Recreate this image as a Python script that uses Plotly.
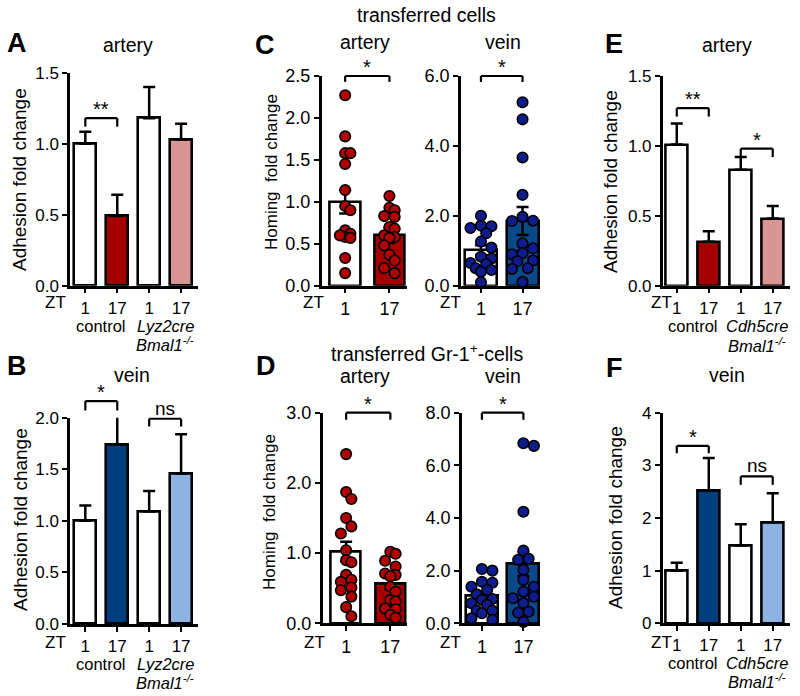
import numpy as np
import plotly.graph_objects as go

W, H = 800, 696
FONT = "Liberation Sans, Arial, Helvetica, sans-serif"

# ---------------- data ----------------
zt4 = ["1", "17", "1", "17"]
zt2 = ["1", "17"]

A_mean = [1.00, 0.49, 1.18, 1.03]
A_sem = [0.085, 0.15, 0.22, 0.11]
B_mean = [1.00, 1.74, 1.09, 1.46]
B_sem = [0.15, 0.29, 0.20, 0.38]
E_mean = [1.01, 0.315, 0.83, 0.48]
E_sem = [0.15, 0.075, 0.09, 0.09]
F_mean = [1.00, 2.52, 1.48, 1.92]
F_sem = [0.15, 0.62, 0.40, 0.55]

C_art_mean = [1.00, 0.60]
C_art_sem = [0.14, 0.09]
C_art_zt1 = [2.27, 1.78, 1.58, 1.58, 1.45, 1.14, 0.95, 0.90, 0.66, 0.62, 0.58, 0.57, 0.60, 0.33, 0.15]
C_art_zt17 = [1.07, 0.93, 0.90, 0.83, 0.82, 0.70, 0.68, 0.60, 0.58, 0.57, 0.48, 0.37, 0.30, 0.21, 0.15]
C_vein_mean = [1.02, 1.85]
C_vein_sem = [0.14, 0.40]
C_vein_zt1 = [2.0, 1.72, 1.70, 1.65, 1.50, 1.26, 1.09, 0.83, 0.78, 0.65, 0.62, 0.50, 0.45, 0.40, 0.10]
C_vein_zt17 = [5.25, 4.76, 3.67, 2.6, 1.97, 1.86, 1.85, 1.21, 1.07, 0.93, 0.90, 0.72, 0.70, 0.50, 0.48, 0.11]
D_art_mean = [1.02, 0.57]
D_art_sem = [0.14, 0.08]
D_art_zt1 = [2.41, 1.87, 1.77, 1.50, 1.38, 1.28, 1.04, 0.90, 0.87, 0.69, 0.62, 0.59, 0.51, 0.47, 0.38, 0.23, 0.10]
D_art_zt17 = [1.02, 0.99, 0.89, 0.81, 0.71, 0.69, 0.67, 0.52, 0.45, 0.33, 0.31, 0.21, 0.20, 0.12, 0.08]
D_vein_mean = [1.05, 2.25]
D_vein_sem = [0.11, 0.45]
D_vein_zt1 = [2.06, 2.0, 1.58, 1.54, 1.39, 1.27, 1.10, 0.92, 0.89, 0.76, 0.70, 0.48, 0.48, 0.38, 0.19, 0.13]
D_vein_zt17 = [6.84, 6.74, 4.24, 2.76, 2.45, 2.41, 2.03, 1.65, 1.39, 1.20, 1.01, 0.95, 0.77, 0.44, 0.40, 0.05]

ticks_15 = [0.0, 0.5, 1.0, 1.5]
ticks_20 = [0.0, 0.5, 1.0, 1.5, 2.0]
ticks_25 = [0.0, 0.5, 1.0, 1.5, 2.0, 2.5]
ticks_30 = [0.0, 1.0, 2.0, 3.0]
ticks_60 = [0.0, 2.0, 4.0, 6.0]
ticks_80 = [0.0, 2.0, 4.0, 6.0, 8.0]
ticks_4 = [0, 1, 2, 3, 4]

# significance brackets: (bar i, bar j, level, drop, label)
A_sig = [(0, 1, 1.18, 0.06, "**")]
B_sig = [(0, 1, 2.16, 0.09, "*"), (2, 3, 1.99, 0.075, "ns")]
C_art_sig = [(0, 1, 2.5, 0.07, "*")]
C_vein_sig = [(0, 1, 6.0, 0.17, "*")]
D_art_sig = [(0, 1, 3.0, 0.10, "*")]
D_vein_sig = [(0, 1, 8.0, 0.27, "*")]
E_sig = [(0, 1, 1.27, 0.06, "**"), (2, 3, 0.98, 0.06, "*")]
F_sig = [(0, 1, 3.37, 0.14, "*"), (2, 3, 2.79, 0.16, "ns")]

# ---------------- styles ----------------
RED = "#A50000"
PINK = "#D99594"
NAVY = "#003F7F"
LBLUE = "#8DB3E2"
CBLUE = "#0B4A8A"
PT_RED = "#B00000"
PT_BLUE = "#0F1C8E"

# (left px, right px, y0 px, top-tick px)
panels = [
    dict(mean=A_mean, sem=A_sem, one=True, cols=["white", RED, "white", PINK], geo=(70, 197.7, 285.7, 72.7),
         yt=ticks_15, fmt="{:.1f}", xr=(-0.48, 3.52), bw=0.68, sig=A_sig, xl=zt4, tf=17, grp=("Lyz2cre", 18, -40)),
    dict(mean=B_mean, sem=B_sem, one=True, cols=["white", NAVY, "white", LBLUE], geo=(70, 197.7, 624, 417.7),
         yt=ticks_20, fmt="{:.1f}", xr=(-0.48, 3.52), bw=0.68, sig=B_sig, xl=zt4, tf=17, grp=("Lyz2cre", 18, -40)),
    dict(mean=C_art_mean, sem=C_art_sem, one=False, cols=["white", RED], geo=(321.7, 406.7, 285.7, 76),
         yt=ticks_25, fmt="{:.1f}", xr=(-0.53, 1.39), bw=0.68, sig=C_art_sig, xl=zt2, tf=18,
         pts=[C_art_zt1, C_art_zt17], pc=PT_RED),
    dict(mean=C_vein_mean, sem=C_vein_sem, one=False, cols=["white", CBLUE], geo=(461, 540, 285.7, 76),
         yt=ticks_60, fmt="{:.1f}", xr=(-0.48, 1.42), bw=0.77, sig=C_vein_sig, xl=zt2, tf=18,
         pts=[C_vein_zt1, C_vein_zt17], pc=PT_BLUE),
    dict(mean=D_art_mean, sem=D_art_sem, one=False, cols=["white", RED], geo=(322.7, 406.7, 623.3, 412.7),
         yt=ticks_30, fmt="{:.1f}", xr=(-0.53, 1.37), bw=0.68, sig=D_art_sig, xl=zt2, tf=18,
         pts=[D_art_zt1, D_art_zt17], pc=PT_RED),
    dict(mean=D_vein_mean, sem=D_vein_sem, one=False, cols=["white", CBLUE], geo=(462, 540, 623.3, 412.7),
         yt=ticks_80, fmt="{:.1f}", xr=(-0.48, 1.40), bw=0.77, sig=D_vein_sig, xl=zt2, tf=18,
         pts=[D_vein_zt1, D_vein_zt17], pc=PT_BLUE),
    dict(mean=E_mean, sem=E_sem, one=True, cols=["white", RED, "white", PINK], geo=(662.7, 790, 285.7, 76),
         yt=ticks_15, fmt="{:.1f}", xr=(-0.44, 3.54), bw=0.68, sig=E_sig, xl=zt4, tf=17, grp=("Cdh5cre", 19, -40)),
    dict(mean=F_mean, sem=F_sem, one=True, cols=["white", NAVY, "white", LBLUE], geo=(662.7, 790, 623.3, 412.7),
         yt=ticks_4, fmt="{:d}", xr=(-0.44, 3.54), bw=0.68, sig=F_sig, xl=zt4, tf=17, grp=("Cdh5cre", 18, -40)),
]


def swarm(vals, ppu_y, ppu_x, diam=10.5, maxoff=0.34):
    vals = np.asarray(vals, dtype=float)
    order = np.argsort(-vals, kind="stable")
    step = diam * 0.5 / ppu_x
    cands = [0.0]
    for k in range(1, 10):
        cands += [k * step, -k * step]
    cands = [c for c in cands if abs(c) <= maxoff]
    placed = []
    offs = np.zeros(len(vals))
    for i in order:
        yv = vals[i] * ppu_y
        chosen = None
        best_c, best_d = 0.0, -1
        for c in cands:
            d = min([np.hypot((c - po) * ppu_x, yv - py) for po, py in placed], default=1e9)
            if d >= diam * 0.92:
                chosen = c
                break
            if d > best_d:
                best_d, best_c = d, c
        if chosen is None:
            chosen = best_c
        offs[i] = chosen
        placed.append((chosen, yv))
    return offs


fig = go.Figure()
shapes, annos = [], []
layout_axes = {}

for k, p in enumerate(panels):
    sfx = "" if k == 0 else str(k + 1)
    xa, ya = "x" + sfx, "y" + sfx
    l, r, y0, yt = p["geo"]
    T = p["yt"][-1]
    n = len(p["mean"])
    xs = list(range(n))
    if p["one"]:
        err = dict(type="data", array=p["sem"], arrayminus=[0] * n, symmetric=False,
                   color="black", thickness=2.5, width=6)
    else:
        err = dict(type="data", array=p["sem"], symmetric=True, color="black", thickness=2.5, width=6)
    fig.add_trace(go.Bar(x=xs, y=p["mean"], width=p["bw"], error_y=err,
                         marker=dict(color=p["cols"], line=dict(color="black", width=2.6)),
                         xaxis=xa, yaxis=ya, showlegend=False, cliponaxis=False, hoverinfo="skip"))
    ppu_y = (y0 - yt) / T
    ppu_x = (r - l) / (p["xr"][1] - p["xr"][0])
    if "pts" in p:
        for gi, vals in enumerate(p["pts"]):
            offs = swarm(vals, ppu_y, ppu_x, maxoff=p["bw"] / 2 - 5 / ppu_x)
            fig.add_trace(go.Scatter(x=gi + offs, y=vals, mode="markers",
                                     marker=dict(size=10.5, color=p["pc"], line=dict(color="black", width=1.6)),
                                     xaxis=xa, yaxis=ya, showlegend=False, cliponaxis=False, hoverinfo="skip"))
    ax_common = dict(showline=True, linewidth=2.5, linecolor="black", ticks="outside", ticklen=5,
                     tickwidth=2.2, tickcolor="black", showgrid=False, zeroline=False, fixedrange=True,
                     automargin=False, tickfont=dict(size=p["tf"], color="black", family=FONT))
    layout_axes["xaxis" + sfx] = dict(ax_common, domain=[l / W, r / W], range=list(p["xr"]), anchor=ya,
                                      tickvals=xs, ticktext=p["xl"])
    layout_axes["yaxis" + sfx] = dict(ax_common, domain=[1 - y0 / H, 1 - yt / H], range=[0, T], anchor=xa,
                                      tickvals=p["yt"], ticktext=[p["fmt"].format(v) for v in p["yt"]])
    x0r, x1r = p["xr"]

    def xd(v):
        return (v - x0r) / (x1r - x0r)

    for (i, j, h, d, lab) in p["sig"]:
        ln = dict(color="black", width=2.2)
        for (ax0, ay0, ax1, ay1) in [(i, h - d, i, h), (i, h, j, h), (j, h, j, h - d)]:
            shapes.append(dict(type="line", xref=xa + " domain", yref=ya + " domain",
                               x0=xd(ax0), y0=ay0 / T, x1=xd(ax1), y1=ay1 / T, line=ln))
        annos.append(dict(xref=xa + " domain", yref=ya + " domain", x=xd((i + j) / 2), y=h / T,
                          text=lab, showarrow=False, xanchor="center", yanchor="bottom",
                          yshift=(-4 if lab != "ns" else -2),
                          font=dict(size=20 if lab != "ns" else 19, color="black", family=FONT)))
    if n == 4:
        gname, gap, gy = p["grp"]
        gfont = dict(size=16.5, color="black", family=FONT)
        annos.append(dict(xref=xa, yref=ya + " domain", x=0.5, y=0, yanchor="middle", yshift=gy,
                          text="control", showarrow=False, font=gfont))
        annos.append(dict(xref=xa, yref=ya + " domain", x=2.5, y=0, yanchor="middle", yshift=gy,
                          text="<i>%s</i>" % gname, showarrow=False, font=gfont))
        annos.append(dict(xref=xa, yref=ya + " domain", x=2.5, y=0, yanchor="middle", yshift=gy - gap,
                          text="<i>Bmal1<sup>-/-</sup></i>", showarrow=False, font=gfont))


def txt(xp, yp, text, size, bold=False, angle=0):
    return dict(xref="paper", yref="paper", x=xp / W, y=1 - yp / H, xanchor="center", yanchor="middle",
                text=("<b>%s</b>" % text) if bold else text, showarrow=False, textangle=angle,
                font=dict(size=size, color="black", family=FONT))


# panel letters
for (xp, yp, t) in [(17, 43, "A"), (17, 366, "B"), (265, 45, "C"), (266, 366, "D"), (614, 44, "E"), (614, 368, "F")]:
    annos.append(txt(xp, yp, t, 27, bold=True))
# titles
annos += [
    txt(128, 45, "artery", 19.5), txt(132, 375, "vein", 19.5),
    txt(427, 15, "transferred cells", 19.5), txt(365, 42, "artery", 19.5), txt(503, 42, "vein", 19.5),
    txt(427, 353, "transferred Gr-1<sup>+</sup>-cells", 19.5), txt(365, 376, "artery", 19.5), txt(503, 376, "vein", 19.5),
    txt(727, 45, "artery", 19.5), txt(727, 375, "vein", 19.5),
]
# y-axis titles
annos += [
    txt(20, 180, "Adhesion fold change", 19, angle=-90), txt(20, 520, "Adhesion fold change", 19, angle=-90),
    txt(272, 172, "Homing\u00a0 fold change", 17, angle=-90), txt(269, 512, "Homing\u00a0 fold change", 17, angle=-90),
    txt(610, 182, "Adhesion fold change", 19, angle=-90), txt(615, 518, "Adhesion fold change", 19, angle=-90),
]
# ZT labels
for (xp, yp) in [(55, 302), (55, 642), (313, 302), (450, 302), (314, 642), (450, 642), (661, 302), (661, 642)]:
    annos.append(txt(xp, yp, "ZT", 17))

fig.update_layout(width=W, height=H, margin=dict(l=0, r=0, t=0, b=0, pad=0, autoexpand=False),
                  paper_bgcolor="white", plot_bgcolor="rgba(0,0,0,0)", shapes=shapes, annotations=annos,
                  bargap=0, font=dict(family=FONT, color="black"), **layout_axes)
fig.write_html("out.html", config={"displayModeBar": False},
               post_script="document.body.style.margin='0px';document.body.style.overflow='hidden';")
